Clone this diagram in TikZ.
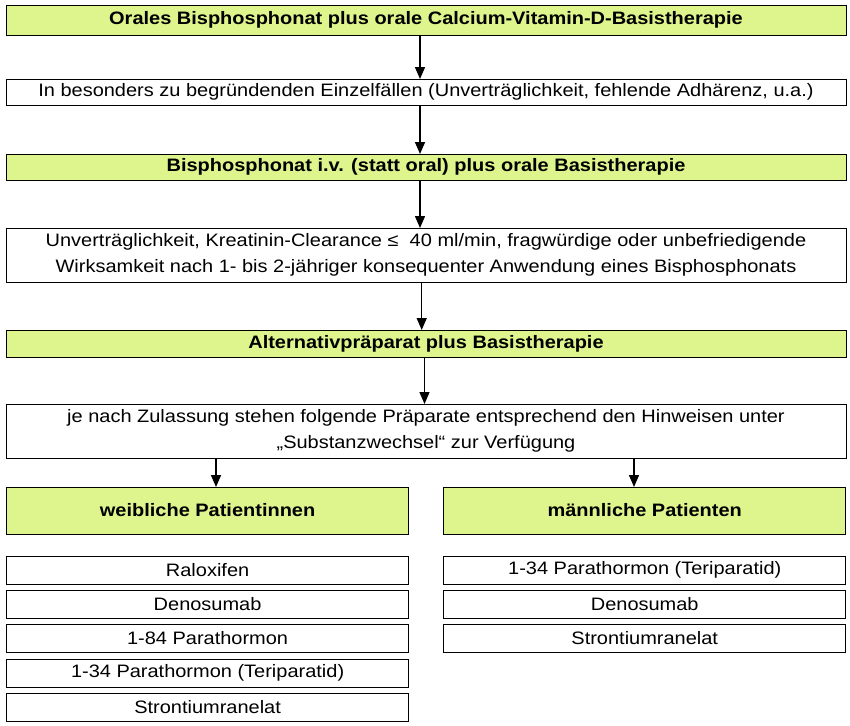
\documentclass[tikz,border=0pt]{standalone}
\usepackage{fontspec}
\setmainfont[FakeStretch=1.11]{Liberation Sans}
\usetikzlibrary{arrows.meta}
\definecolor{boxgreen}{RGB}{221,245,140}
\begin{document}
\begin{tikzpicture}[x=1pt,y=-1pt,
  every node/.style={inner sep=0pt,outer sep=0pt,line width=0.8pt,draw=black,
    font=\fontsize{18}{26.5}\selectfont,align=center},
  greenbox/.style={fill=boxgreen,font=\fontsize{18}{26.5}\selectfont\bfseries},
  whitebox/.style={fill=white},
  wide/.style={minimum width=840pt},
  half/.style={minimum width=402pt},
  conn/.style={line width=1.4pt,-{Triangle[length=12pt,width=10pt]}}]
\useasboundingbox (0,0) rectangle (850,725);
\fill[white] (0,0) rectangle (850,725);
\node[greenbox,wide,minimum height=30pt] (b1) at (426,20) {Orales Bisphosphonat plus orale Calcium-Vitamin-D-Basistherapie};
\node[whitebox,wide,minimum height=26pt] (b2) at (426,92) {In besonders zu begründenden Einzelfällen (Unverträglichkeit, fehlende Adhärenz, u.a.)};
\node[greenbox,wide,minimum height=26pt] (b3) at (426,167) {Bisphosphonat i.v. (statt oral) plus orale Basistherapie};
\node[whitebox,wide,minimum height=54pt] (b4) at (426,255) {Unverträglichkeit, Kreatinin-Clearance ≤\ \ 40 ml/min, fragwürdige oder unbefriedigende\\Wirksamkeit nach 1- bis 2-jähriger konsequenter Anwendung eines Bisphosphonats};
\node[greenbox,wide,minimum height=27pt] (b5) at (426,343.5) {Alternativpräparat plus Basistherapie};
\node[whitebox,wide,minimum height=54pt] (b6) at (426,431) {je nach Zulassung stehen folgende Präparate entsprechend den Hinweisen unter\\„Substanzwechsel“ zur Verfügung};
\node[greenbox,half,minimum height=47pt] (gl) at (207.6,510.5) {weibliche Patientinnen};
\node[greenbox,half,minimum height=47pt] (gr) at (644.75,510.5) {männliche Patienten};
\node[whitebox,half,minimum height=28pt] (l1) at (207.6,570.3) {Raloxifen};
\node[whitebox,half,minimum height=28pt] (l2) at (207.6,604.3) {Denosumab};
\node[whitebox,half,minimum height=28pt] (l3) at (207.6,638.3) {1-84 Parathormon};
\node[whitebox,half,minimum height=28pt] (l4) at (207.6,673) {1-34 Parathormon (Teriparatid)};
\node[whitebox,half,minimum height=28pt] (l5) at (207.6,707) {Strontiumranelat};
\node[whitebox,half,minimum height=28pt] (r1) at (644.75,570.3) {1-34 Parathormon (Teriparatid)};
\node[whitebox,half,minimum height=28pt] (r2) at (644.75,604.3) {Denosumab};
\node[whitebox,half,minimum height=28pt] (r3) at (644.75,638.3) {Strontiumranelat};
\draw[conn] ([xshift=-6pt]b1.south) -- ([xshift=-6pt]b2.north);
\draw[conn] ([xshift=-6pt]b2.south) -- ([xshift=-6pt]b3.north);
\draw[conn] ([xshift=-6pt]b3.south) -- ([xshift=-6pt]b4.north);
\draw[conn] ([xshift=-4.3pt]b4.south) -- ([xshift=-4.3pt]b5.north);
\draw[conn] ([xshift=-1.5pt]b5.south) -- ([xshift=-1.5pt]b6.north);
\draw[conn] ([xshift=-210pt]b6.south) -- ([xshift=8.4pt]gl.north);
\draw[conn] ([xshift=208pt]b6.south) -- ([xshift=-10.75pt]gr.north);
\end{tikzpicture}
\end{document}
